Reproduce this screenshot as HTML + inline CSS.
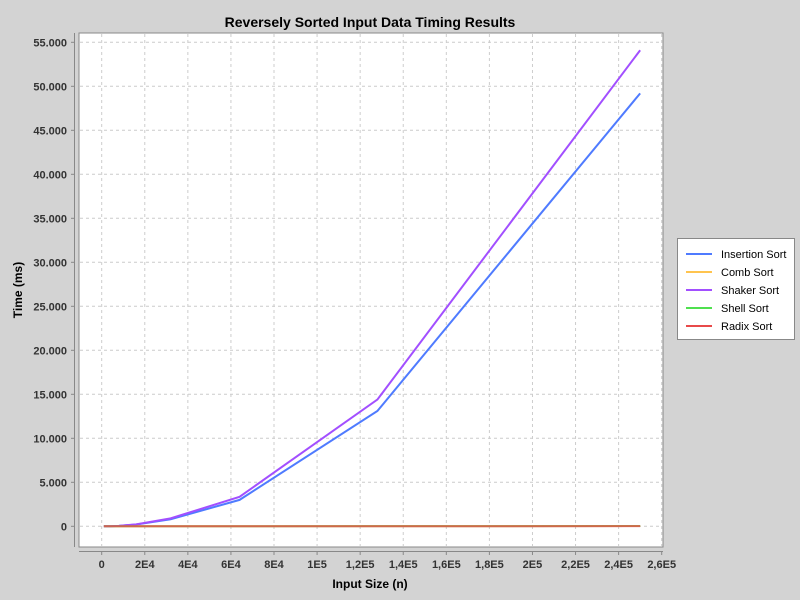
<!DOCTYPE html>
<html><head><meta charset="utf-8"><style>body{margin:0;background:#d3d3d3}svg{display:block;font-family:"Liberation Sans",sans-serif}</style></head>
<body>
<svg id="chart" width="800" height="600">
<rect x="0" y="0" width="800" height="600" fill="#d3d3d3"/>
<text x="370" y="27" text-anchor="middle" font-weight="bold" font-size="14">Reversely Sorted Input Data Timing Results</text>
<rect x="79" y="33" width="584" height="514" fill="#fff" stroke="#888"/>
<g id="grid"></g><g id="axes"></g><g id="series"></g>
<text transform="translate(22,290) rotate(-90)" text-anchor="middle" font-weight="bold" font-size="12">Time (ms)</text>
<text x="370" y="588" text-anchor="middle" font-weight="bold" font-size="12">Input Size (n)</text>
<g id="legend"><rect x="677.5" y="238.5" width="117" height="101" fill="#fff" stroke="#888"/></g>
</svg>
<script>
const xs=[1000,2000,4000,8000,16000,32000,64000,128000,250000];
const insertion=[0,2,8,50,200,800,3000,13100,49200];
const comb=[0,0,0,1,2,4,8,16,33];
const shaker=[0,2,9,55,220,900,3350,14400,54100];
const shell=[0,0,0,1,2,4,8,17,35];
const radix=[0,0,0,1,1,2,4,8,16];
const seriesNames=["Insertion Sort","Comb Sort","Shaker Sort","Shell Sort","Radix Sort"];
const seriesVals=[insertion,comb,shaker,shell,radix];
const colors=["#4f7bff","#ffc44f","#a24fff","#4fe04f","#e84a4a"];
const xTicks=[0,20000,40000,60000,80000,100000,120000,140000,160000,180000,200000,220000,240000,260000];
const xTickLabels=["0","2E4","4E4","6E4","8E4","1E5","1,2E5","1,4E5","1,6E5","1,8E5","2E5","2,2E5","2,4E5","2,6E5"];
const yTicks=[0,5000,10000,15000,20000,25000,30000,35000,40000,45000,50000,55000];
const yTickLabels=["0","5.000","10.000","15.000","20.000","25.000","30.000","35.000","40.000","45.000","50.000","55.000"];
const X=v=>101.7+v*(560/260000);
const Y=v=>526.3-v*(44/5000);
const NS="http://www.w3.org/2000/svg";
function mk(t,a,p){const e=document.createElementNS(NS,t);for(const k in a)e.setAttribute(k,a[k]);p.appendChild(e);return e;}
const grid=document.getElementById('grid'),axes=document.getElementById('axes'),ser=document.getElementById('series'),leg=document.getElementById('legend');
mk('line',{x1:79,y1:551.5,x2:663,y2:551.5,stroke:'#888'},axes);
mk('line',{x1:74.5,y1:33,x2:74.5,y2:547,stroke:'#888'},axes);
xTicks.forEach((v,i)=>{const x=X(v);
const g=mk('line',{x1:x,y1:34,x2:x,y2:546,stroke:'#ccc','stroke-dasharray':'3,3'},grid);


mk('line',{x1:x,y1:551.5,x2:x,y2:555,stroke:'#888'},axes);
const t=mk('text',{x:x,y:568,'text-anchor':'middle','font-size':'11','font-weight':'bold',fill:'#333'},axes);t.textContent=xTickLabels[i];

});
yTicks.forEach((v,i)=>{const y=Y(v);
const g=mk('line',{x1:80,y1:y,x2:662,y2:y,stroke:'#ccc','stroke-dasharray':'3,3'},grid);


mk('line',{x1:71,y1:y,x2:74.5,y2:y,stroke:'#888'},axes);
const t=mk('text',{x:67,y:y+4,'text-anchor':'end','font-size':'11','font-weight':'bold',fill:'#333'},axes);t.textContent=yTickLabels[i];

});
seriesVals.forEach((vals,s)=>{
const p=mk('polyline',{points:xs.map((x,i)=>X(x)+','+Y(vals[i])).join(' '),fill:'none',stroke:colors[s],'stroke-width':2,opacity:s>=3||s==1?0.8:1},ser);


const ly=254+s*18;
mk('line',{x1:686,y1:ly,x2:712,y2:ly,stroke:colors[s],'stroke-width':2},leg);
const t=mk('text',{x:721,y:ly+4,'font-size':'11'},leg);t.textContent=seriesNames[s];

});
</script>
</body></html>
